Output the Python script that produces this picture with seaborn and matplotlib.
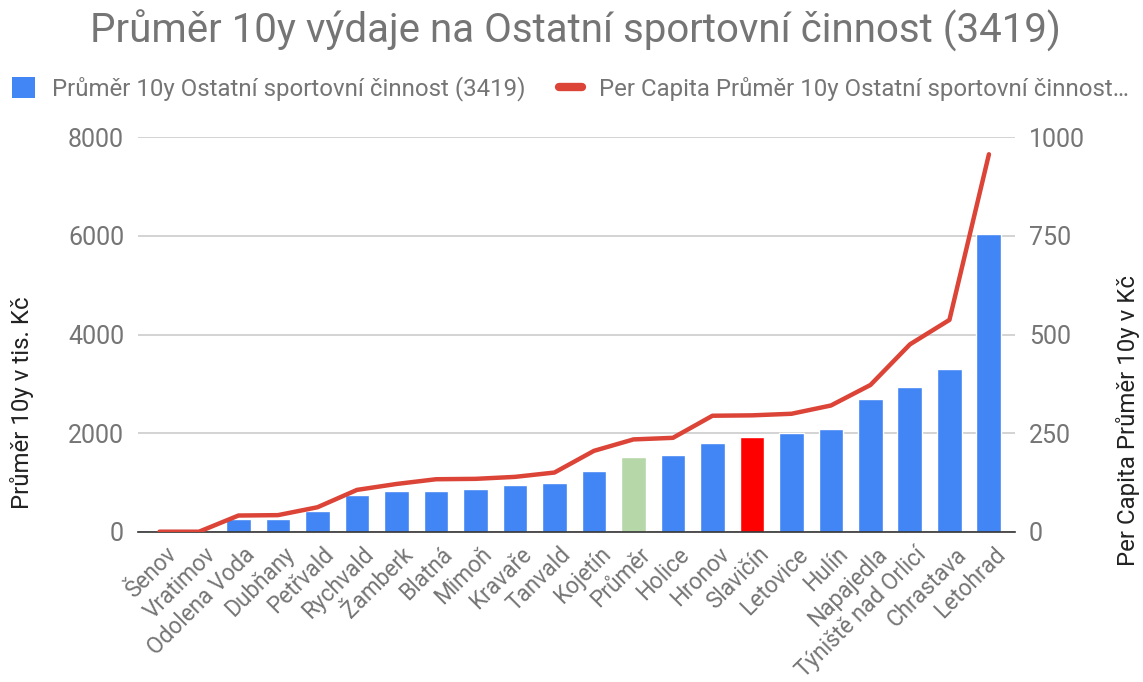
import matplotlib
matplotlib.use("Agg")
import matplotlib.pyplot as plt
import matplotlib.transforms as mtransforms
import seaborn as sns
import numpy as np
from matplotlib.patches import Patch
from matplotlib.lines import Line2D

cities = ["Šenov", "Vratimov", "Odolena Voda", "Dubňany", "Petřvald", "Rychvald",
          "Žamberk", "Blatná", "Mimoň", "Kravaře", "Tanvald", "Kojetín", "Průměr",
          "Holice", "Hronov", "Slavičín", "Letovice", "Hulín", "Napajedla",
          "Týniště nad Orlicí", "Chrastava", "Letohrad"]
avg_10y = [0, 0, 251, 251, 420, 744, 825, 825, 866, 947, 988, 1231, 1515,
           1555, 1805, 1920, 1995, 2077, 2697, 2935, 3306, 6031]
per_capita = [0, 0, 41, 42, 62, 106, 121, 133, 134, 139, 150, 205, 234,
              238, 294, 295, 299, 320, 372, 475, 537, 957]
left_ticks = [0, 2000, 4000, 6000, 8000]
right_ticks = [0, 250, 500, 750, 1000]

title = "Průměr 10y výdaje na Ostatní sportovní činnost (3419)"
bar_name = "Průměr 10y Ostatní sportovní činnost (3419)"
line_name = "Per Capita Průměr 10y Ostatní sportovní činnost…"

blue = "#4285F4"
red = "#DB4437"
grey = "#757575"
colors = [blue] * len(cities)
colors[cities.index("Průměr")] = "#B6D7A8"
colors[cities.index("Slavičín")] = "#FF0000"

sns.set_style("white")
plt.rcParams["font.family"] = ["Roboto", "DejaVu Sans"]

fig = plt.figure(figsize=(11.43, 6.82), dpi=100)
ax = fig.add_axes([138 / 1143, 1 - 531.7 / 682, (1015 - 138) / 1143, (531.7 - 137.3) / 682])

sns.barplot(x=cities, y=avg_10y, hue=cities, palette=colors, legend=False,
            width=0.63, ax=ax, saturation=1)
ax.set_xlim(-0.544, len(cities) - 1 + 0.66)
ax.set_ylim(0, 8000)
ax.set_yticks(left_ticks)
ax.set_yticklabels([str(t) for t in left_ticks])
ax.grid(axis="y", color="#CCCCCC", linewidth=1.2)
ax.set_axisbelow(True)
for s in ["top", "right", "left"]:
    ax.spines[s].set_visible(False)
ax.spines["bottom"].set_color("#333333")
ax.spines["bottom"].set_linewidth(1.2)
ax.tick_params(axis="y", length=0, pad=10, labelsize=18, labelcolor=grey)
ax.tick_params(axis="x", length=0, pad=8, labelsize=16.3, labelcolor=grey)
shift = mtransforms.ScaledTranslation(5 / 100, 0, fig.dpi_scale_trans)
for lab in ax.get_xticklabels():
    lab.set_rotation(45)
    lab.set_ha("right")
    lab.set_va("top")
    lab.set_rotation_mode("anchor")
    lab.set_transform(lab.get_transform() + shift)
ax.set_xlabel("")
ax.set_ylabel("")

ax2 = ax.twinx()
sns.lineplot(x=np.arange(len(cities)), y=per_capita, color=red, linewidth=3.2, ax=ax2)
ax2.set_ylim(0, 1000)
ax2.set_yticks(right_ticks)
ax2.set_yticklabels([str(t) for t in right_ticks])
for s in ["top", "right", "left", "bottom"]:
    ax2.spines[s].set_visible(False)
ax2.tick_params(axis="y", length=0, pad=10, labelsize=18, labelcolor=grey)
ax2.set_ylabel("")

fig.text(22 / 1143, 1 - 403 / 682, "Průměr 10y v tis. Kč", rotation=90,
         ha="center", va="center", fontsize=17.3, color="#222222")
fig.text(1128 / 1143, 1 - 420 / 682, "Per Capita Průměr 10y v Kč", rotation=90,
         ha="center", va="center", fontsize=17.3, color="#222222")

fig.text(575 / 1143, 1 - 31 / 682, title, ha="center", va="center", fontsize=29, color=grey)

handles = [Patch(facecolor=blue, edgecolor="none"),
           Line2D([0], [0], color=red, linewidth=6)]
fig.legend(handles, [bar_name, line_name], loc="center left",
           bbox_to_anchor=(12 / 1143, 1 - 89 / 682), ncol=2, frameon=False,
           fontsize=17.3, handlelength=0.96, handleheight=0.96, handletextpad=0.7,
           columnspacing=1.4, labelcolor=grey, borderpad=0, borderaxespad=0)

plt.savefig("out.png", dpi=100)
